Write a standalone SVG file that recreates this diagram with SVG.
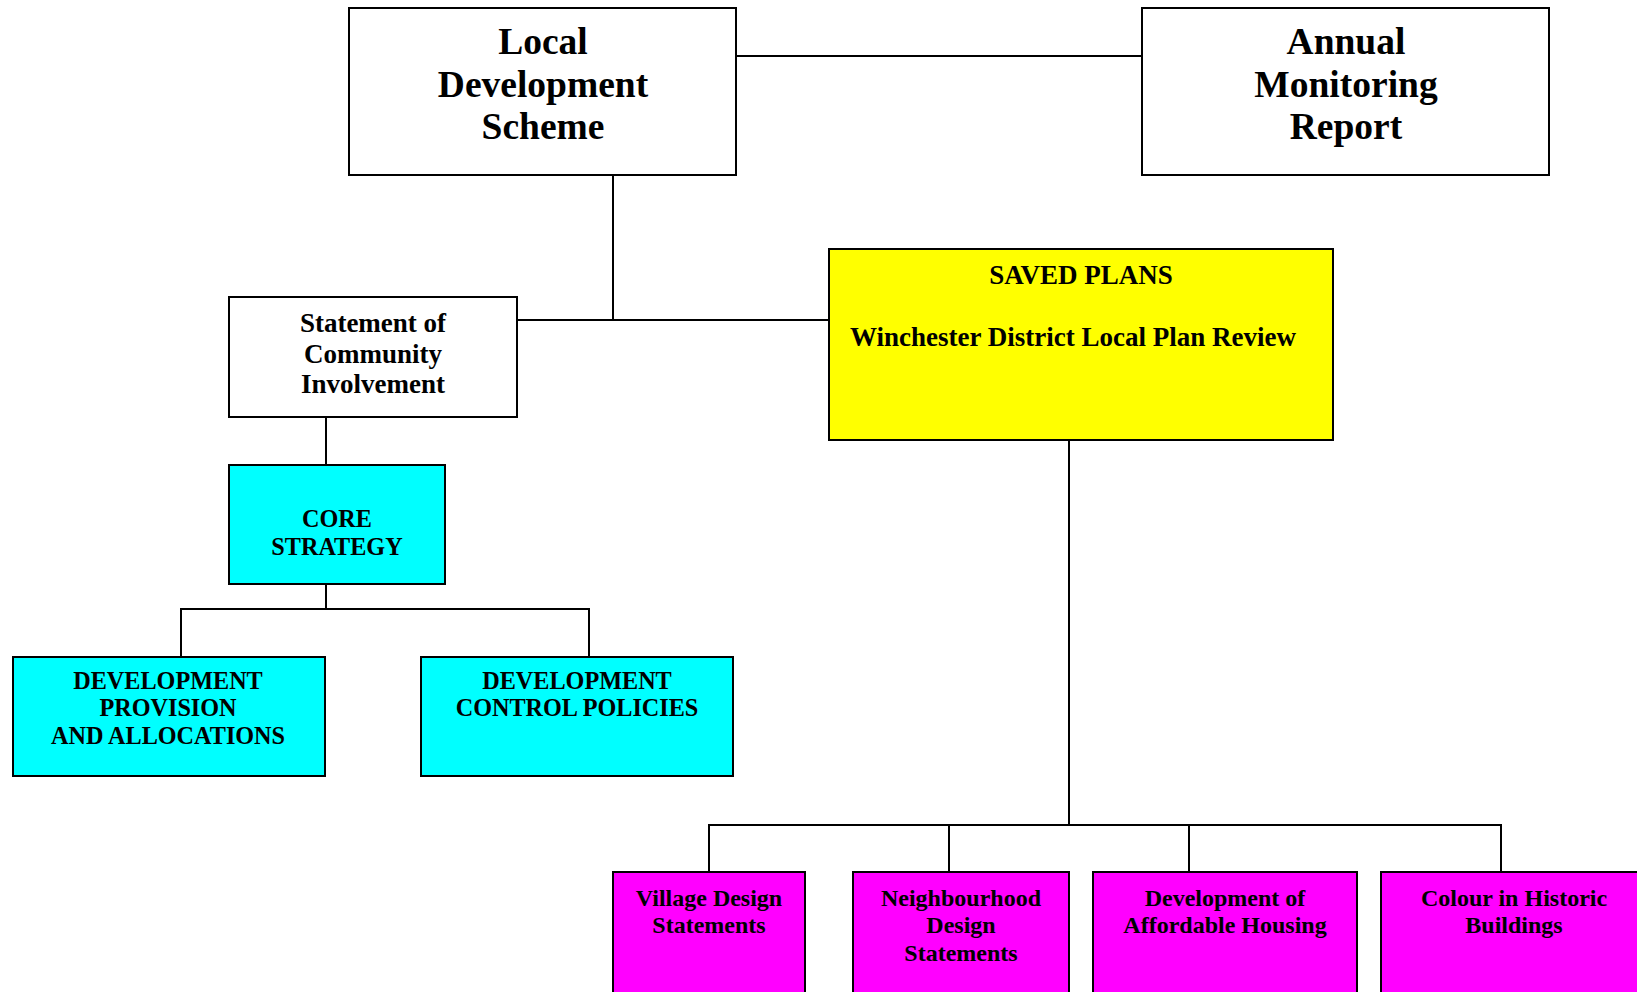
<svg xmlns="http://www.w3.org/2000/svg" width="1637" height="992" viewBox="0 0 1637 992">
<style>
.box{stroke:#000;stroke-width:2}
.w{fill:#fff}.y{fill:#ffff00}.c{fill:#00ffff}.m{fill:#ff00ff}
text{font-family:"Liberation Serif","Times New Roman",serif;font-weight:bold;fill:#000;text-anchor:middle}
.big{font-size:37.5px}.med{font-size:27px}.sm{font-size:24.2px}.mg{font-size:24px}
.ln{stroke:#000;stroke-width:2;fill:none}
</style>
<rect width="1637" height="992" fill="#fff"/>
<g id="connectors">
<line class="ln" x1="735" y1="56" x2="1142" y2="56"/>
<line class="ln" x1="613" y1="175" x2="613" y2="320"/>
<line class="ln" x1="517" y1="320" x2="829" y2="320"/>
<line class="ln" x1="326" y1="417" x2="326" y2="465"/>
<line class="ln" x1="326" y1="584" x2="326" y2="609"/>
<polyline class="ln" points="181,657 181,609 589,609 589,657"/>
<line class="ln" x1="1069" y1="440" x2="1069" y2="825"/>
<polyline class="ln" points="709,872 709,825 1501,825 1501,872"/>
<line class="ln" x1="949" y1="825" x2="949" y2="872"/>
<line class="ln" x1="1189" y1="825" x2="1189" y2="872"/>
</g>
<g id="lds">
<rect class="box w" x="349" y="8" width="387" height="167"/>
<text class="big" x="543" y="54">Local</text>
<text class="big" x="543" y="97">Development</text>
<text class="big" x="543" y="139">Scheme</text>
</g>
<g id="amr">
<rect class="box w" x="1142" y="8" width="407" height="167"/>
<text class="big" x="1346" y="54">Annual</text>
<text class="big" x="1346" y="97">Monitoring</text>
<text class="big" x="1346" y="139">Report</text>
</g>
<g id="sci">
<rect class="box w" x="229" y="297" width="288" height="120"/>
<text class="med" x="373" y="332">Statement of</text>
<text class="med" x="373" y="363">Community</text>
<text class="med" x="373" y="393">Involvement</text>
</g>
<g id="saved">
<rect class="box y" x="829" y="249" width="504" height="191"/>
<text class="med" x="1081" y="284">SAVED PLANS</text>
<text class="med" x="850" y="346" style="text-anchor:start">Winchester District Local Plan Review</text>
</g>
<g id="core">
<rect class="box c" x="229" y="465" width="216" height="119"/>
<text class="sm" x="337" y="527">CORE</text>
<text class="sm" x="337" y="555">STRATEGY</text>
</g>
<g id="dpa">
<rect class="box c" x="13" y="657" width="312" height="119"/>
<text class="sm" x="168" y="689">DEVELOPMENT</text>
<text class="sm" x="168" y="716">PROVISION</text>
<text class="sm" x="168" y="744">AND ALLOCATIONS</text>
</g>
<g id="dcp">
<rect class="box c" x="421" y="657" width="312" height="119"/>
<text class="sm" x="577" y="689">DEVELOPMENT</text>
<text class="sm" x="577" y="716">CONTROL POLICIES</text>
</g>
<g id="vds">
<rect class="box m" x="613" y="872" width="192" height="140"/>
<text class="mg" x="709" y="906">Village Design</text>
<text class="mg" x="709" y="933">Statements</text>
</g>
<g id="nds">
<rect class="box m" x="853" y="872" width="216" height="140"/>
<text class="mg" x="961" y="906">Neighbourhood</text>
<text class="mg" x="961" y="933">Design</text>
<text class="mg" x="961" y="961">Statements</text>
</g>
<g id="dah">
<rect class="box m" x="1093" y="872" width="264" height="140"/>
<text class="mg" x="1225" y="906">Development of</text>
<text class="mg" x="1225" y="933">Affordable Housing</text>
</g>
<g id="chb">
<rect class="box m" x="1381" y="872" width="280" height="140"/>
<text class="mg" x="1514" y="906">Colour in Historic</text>
<text class="mg" x="1514" y="933">Buildings</text>
</g>
</svg>
